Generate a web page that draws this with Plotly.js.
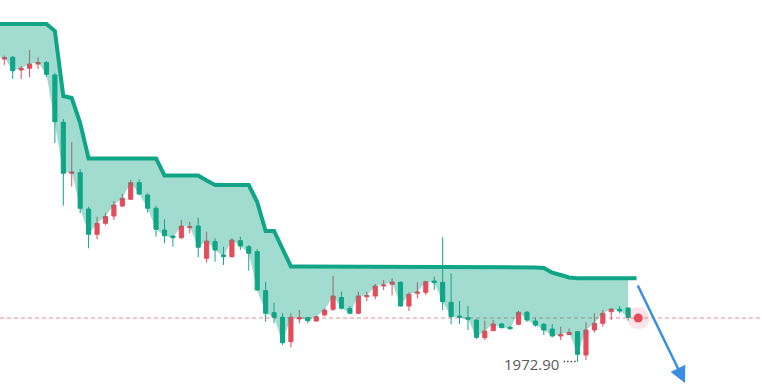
<!DOCTYPE html>
<html>
<head>
<meta charset="utf-8">
<script src="https://cdn.plot.ly/plotly-3.0.1.min.js"></script>
<style>html,body{margin:0;padding:0;background:#fff;}#chart{width:762px;height:391px;}</style>
</head>
<body>
<div id="chart"></div>
<script>
// bar index (categories)
const bars = [0,1,2,3,4,5,6,7,8,9,10,11,12,13,14,15,16,17,18,19,20,21,22,23,24,25,26,27,28,29,
30,31,32,33,34,35,36,37,38,39,40,41,42,43,44,45,46,47,48,49,50,51,52,53,54,55,56,57,58,59,
60,61,62,63,64,65,66,67,68,69,70,71,72,73,74];

const open = [2048.65,2049.08,2045.9,2046.33,2047.4,2047.78,2044.65,2032.83,2020.08,2020.23,
2011.15,2004.83,2007.58,2009.4,2011.9,2013.58,2017.73,2014.65,2011.33,2005.9,
2004.4,2003.98,2006.48,2006.9,1998.83,2002.98,1999.65,1999.23,2003.23,2001.73,
2000.48,1990.73,1985.23,1984.08,1977.98,1983.65,1983.98,1983.15,1984.65,1986.08,
1989.03,1986.28,1985.08,1989.23,1989.4,1991.9,1992.33,1992.83,1986.9,1990.08,
1990.33,1993.15,1992.83,1987.83,1984.4,1983.98,1983.4,1978.98,1980.73,1982.4,
1981.58,1982.33,1985.33,1983.15,1982.33,1981.15,1979.4,1979.73,1980.48,1974.65,
1980.9,1982.58,1985.48,1986.08,1986.4];

const high = [2049.53,2049.4,2046.9,2050.9,2049.03,2048.15,2045.15,2033.65,2027.83,2021.08,
2011.73,2009.23,2010.23,2013.15,2014.9,2018.4,2018.58,2015.08,2011.98,2008.58,
2004.48,2008.4,2007.98,2008.98,2005.48,2003.83,2001.73,2003.83,2004.23,2002.15,
2001.08,1992.98,1987.73,1985.08,1985.08,1985.9,1984.23,1984.48,1986.33,1994.4,
1990.48,1986.9,1990.48,1990.48,1992.4,1993.4,1993.9,1993.03,1990.33,1992.85,
1993.23,1994.23,2004.08,1995.08,1988.15,1986.9,1983.53,1983.23,1983.4,1982.73,
1981.9,1985.73,1985.65,1983.98,1982.65,1982.4,1981.73,1981.28,1980.65,1982.83,
1985.08,1985.9,1986.28,1986.9,1986.53];

const low = [2047.15,2043.65,2043.65,2044.15,2046.15,2044.15,2027.65,2011.98,2016.73,2010.08,
2001.33,2003.58,2007.15,2008.4,2011.65,2013.4,2014.65,2010.23,2004.23,2002.58,
2001.73,2003.65,2005.08,1999.08,1997.73,1997.98,1997.15,1998.98,2000.9,1995.73,
1990.73,1982.98,1982.58,1977.15,1976.58,1982.58,1982.58,1982.98,1984.48,1985.65,
1986.03,1984.83,1984.83,1988.15,1988.58,1990.9,1989.53,1986.78,1985.65,1988.78,
1989.65,1990.9,1985.9,1982.33,1982.33,1980.9,1978.65,1978.4,1980.65,1981.33,
1980.9,1982.08,1982.9,1981.73,1979.65,1979.08,1978.4,1979.65,1972.9,1973.4,
1980.23,1981.73,1983.4,1985.08,1983.23];

const close = [2049.03,2045.73,2046.33,2047.4,2047.78,2044.83,2032.98,2020.08,2020.4,2011.33,
2004.83,2007.58,2009.28,2012.15,2013.83,2017.73,2014.9,2011.33,2006.08,2004.48,
2003.98,2006.9,2006.73,2001.58,2003.15,2000.9,1999.23,2003.4,2001.9,2000.08,
1990.9,1985.08,1984.08,1977.73,1984.08,1983.98,1983.23,1984.23,1985.9,1989.4,
1986.33,1985.08,1989.4,1989.48,1991.9,1992.15,1992.9,1986.9,1989.83,1990.4,
1992.98,1992.73,1987.98,1984.23,1984.08,1983.58,1979.08,1980.65,1982.4,1981.48,
1981.23,1985.33,1983.4,1982.15,1980.9,1979.4,1979.78,1980.28,1974.83,1980.9,
1982.58,1985.08,1986.15,1985.65,1984.08];

// trailing stop line, bars 0..75 (75 = forming bar)
const stopLine = [2057.4,2057.4,2057.4,2057.4,2057.4,2057.4,2055.65,2039.4,2038.9,2032.65,
2023.78,2023.78,2023.78,2023.78,2023.78,2023.78,2023.78,2023.78,2023.78,2019.53,
2019.53,2019.53,2019.53,2019.53,2018.28,2017.15,2017.15,2017.15,2017.15,2017.15,
2012.9,2005.65,2005.65,2001.15,1996.78,1996.78,1996.78,1996.78,1996.78,1996.78,
1996.78,1996.78,1996.78,1996.78,1996.78,1996.78,1996.78,1996.78,1996.78,1996.78,
1996.78,1996.78,1996.78,1996.78,1996.78,1996.78,1996.78,1996.78,1996.78,1996.53,
1996.53,1996.53,1996.53,1996.53,1996.4,1995.23,1994.65,1994.03,1993.83,1993.83,
1993.83,1993.83,1993.83,1993.83,1993.83,1993.83];

// values just left of the visible window
const prevBar = -1;
const prevClose = 2049.0;
const prevStop = 2057.4;

const lastPrice = 1983.9;
const lowPrice = 1972.90;
const lowLabel = '1972.90';
const lowBar = 68;

const GREEN = '#10a586';
const RED = '#e24c5b';

const fx = [prevBar].concat(bars);
const fillLow = [prevClose].concat(close);
const fillHigh = [prevStop].concat(stopLine.slice(0, bars.length));
const lineX = [prevBar].concat(bars, [bars.length]);
const lineY = [prevStop].concat(stopLine);

const traces = [
  {x: fx, y: fillLow, type: 'scatter', mode: 'lines', line: {width: 0, color: 'rgba(0,0,0,0)'}, hoverinfo: 'skip', showlegend: false},
  {x: fx, y: fillHigh, type: 'scatter', mode: 'lines', fill: 'tonexty', fillcolor: 'rgba(16,165,134,0.39)', line: {width: 0, color: 'rgba(0,0,0,0)'}, hoverinfo: 'skip', showlegend: false},
  {x: lineX, y: lineY, type: 'scatter', mode: 'lines', line: {width: 4, color: GREEN}, hoverinfo: 'skip', showlegend: false},
  {x: bars, open: open, high: high, low: low, close: close, type: 'candlestick',
   increasing: {line: {color: RED, width: 1}, fillcolor: RED},
   decreasing: {line: {color: GREEN, width: 1}, fillcolor: GREEN},
   whiskerwidth: 0, showlegend: false},
  {x: [bars.length + 0.2], y: [lastPrice], type: 'scatter', mode: 'markers', marker: {size: 22, color: 'rgba(226,76,91,0.15)'}, hoverinfo: 'skip', showlegend: false},
  {x: [bars.length + 0.2], y: [lastPrice], type: 'scatter', mode: 'markers', marker: {size: 9, color: RED}, hoverinfo: 'skip', showlegend: false}
];

const layout = {
  width: 762, height: 391,
  margin: {l: 0, r: 0, t: 0, b: 0},
  paper_bgcolor: '#ffffff', plot_bgcolor: '#ffffff',
  showlegend: false,
  xaxis: {range: [-0.51, 89.88], visible: false, showgrid: false, zeroline: false, rangeslider: {visible: false}, fixedrange: true},
  yaxis: {range: [1965.65, 2063.4], visible: false, showgrid: false, zeroline: false, fixedrange: true},
  shapes: [
    {type: 'line', xref: 'paper', x0: 0, x1: 1, yref: 'y', y0: lastPrice, y1: lastPrice,
     line: {color: 'rgba(226,76,91,0.65)', width: 1, dash: '4px,3px'}, layer: 'below'},
    {type: 'line', xref: 'x', yref: 'y', x0: 66.35, x1: lowBar - 0.1, y0: lowPrice + 0.13, y1: lowPrice + 0.13,
     line: {color: '#444', width: 1.5, dash: '1.5px,2px'}}
  ],
  annotations: [
    {x: 66.05, y: lowPrice - 0.6, xref: 'x', yref: 'y', text: lowLabel, showarrow: false,
     xanchor: 'right', yanchor: 'middle', font: {family: 'Open Sans', size: 15, color: '#5a5a5a'}},
    {x: 80.75, y: 1967.65, xref: 'x', yref: 'y', text: '', showarrow: true,
     ax: -48, ay: -99, arrowcolor: '#3b8fe3', arrowwidth: 2.5, arrowhead: 2, arrowsize: 1.3}
  ]
};

Plotly.newPlot('chart', traces, layout, {displayModeBar: false, staticPlot: true});
</script>
</body>
</html>
